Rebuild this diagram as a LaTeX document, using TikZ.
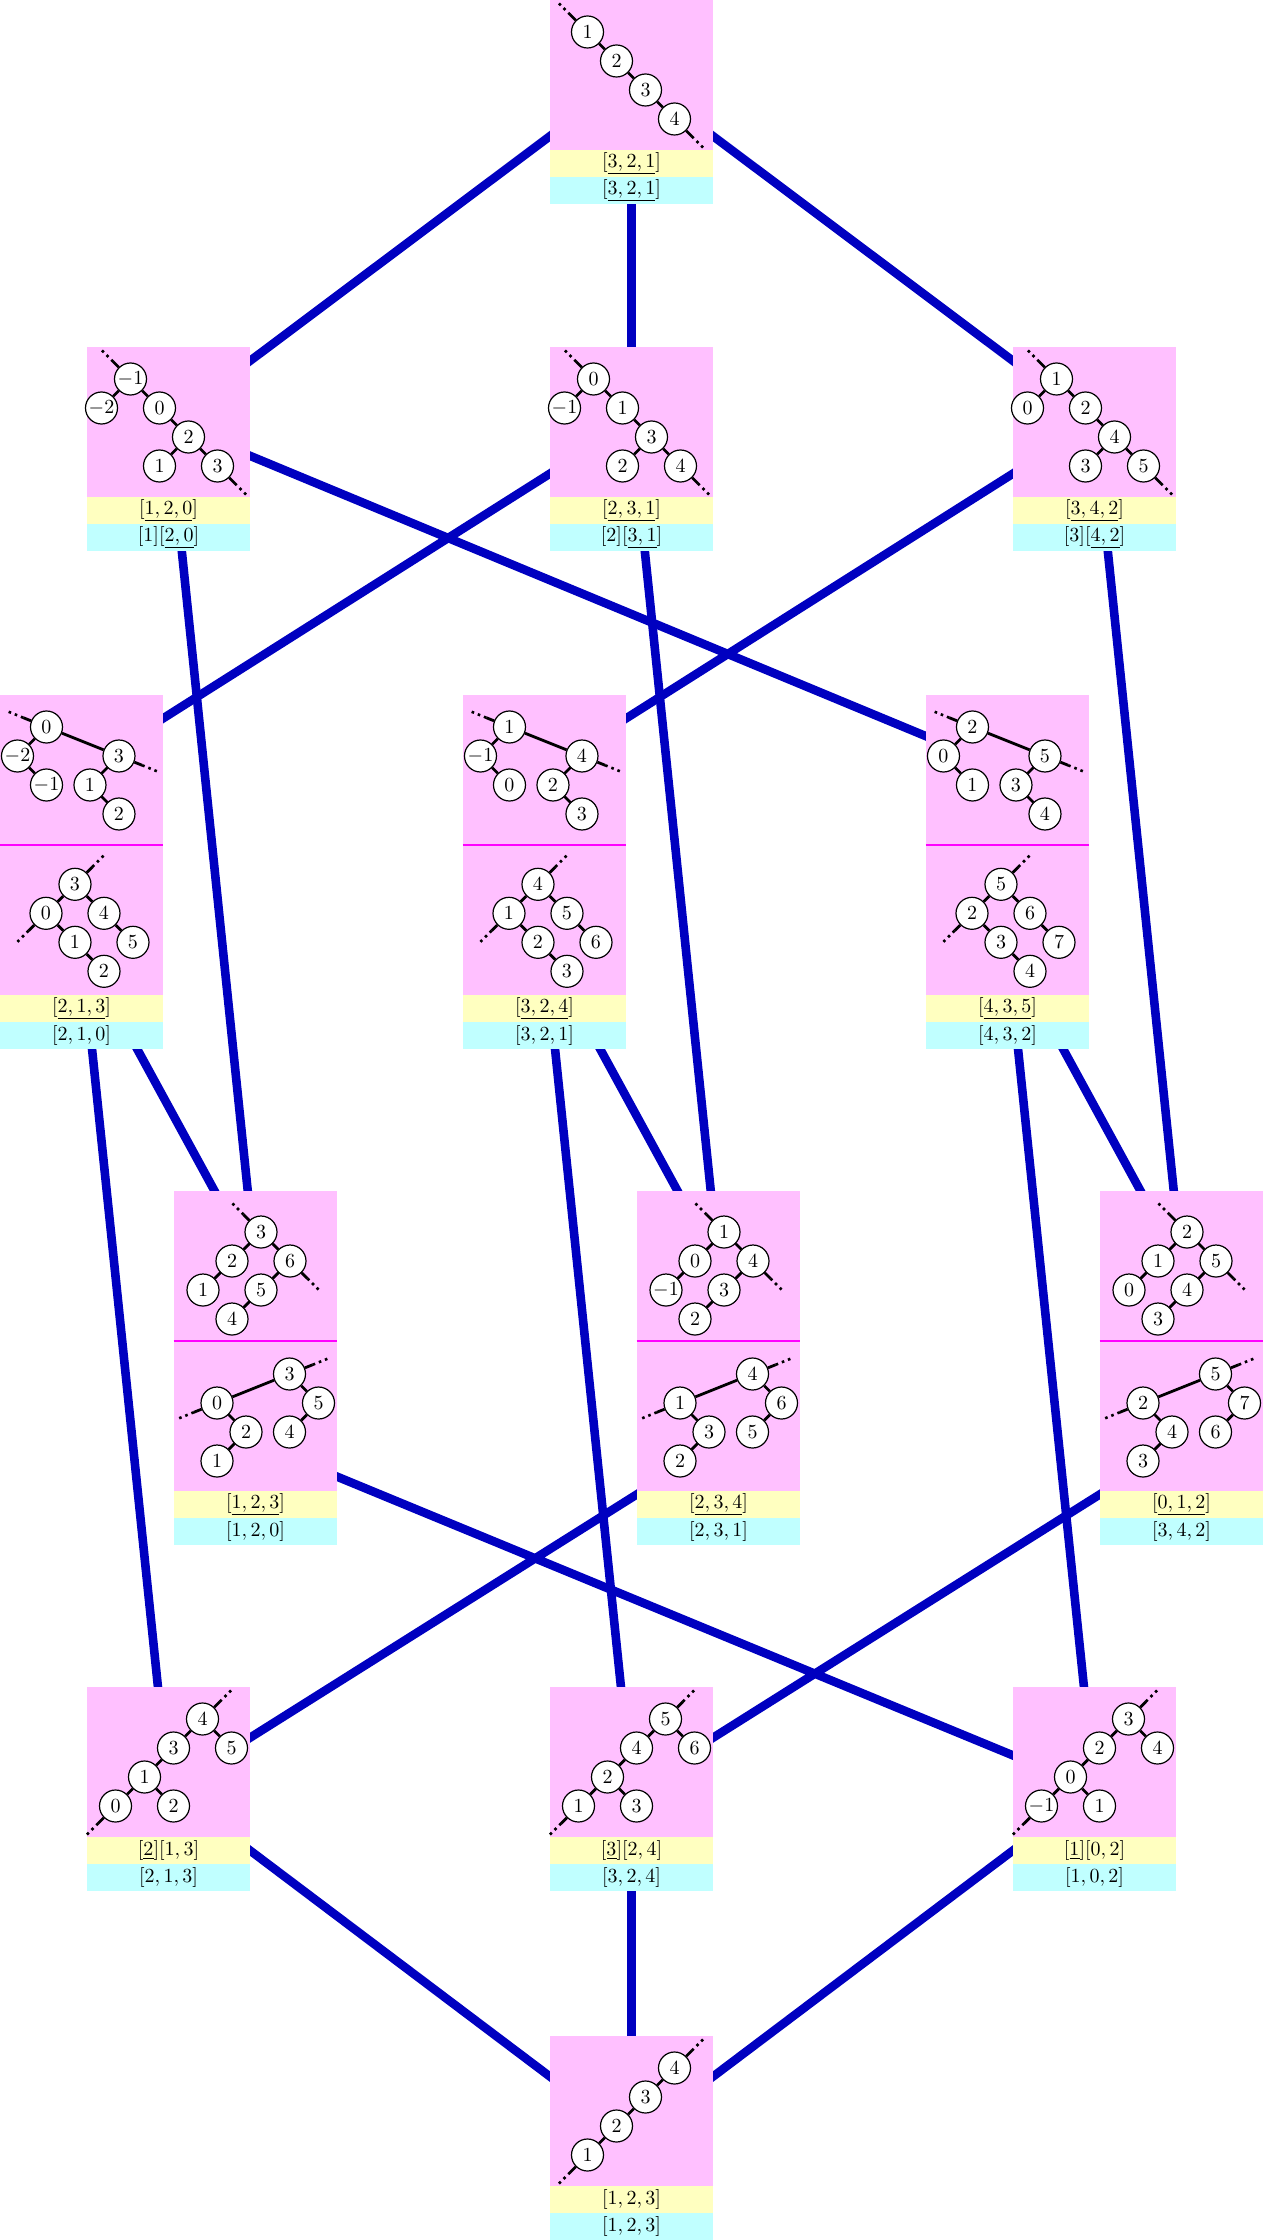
\documentclass[tikz,border=0pt]{standalone}
\definecolor{pinkc}{RGB}{255,192,255}
\definecolor{yelc}{RGB}{255,255,192}
\definecolor{cyanc}{RGB}{192,255,255}
\definecolor{bluec}{RGB}{0,0,192}
\definecolor{magc}{RGB}{255,0,255}
\tikzset{
  tn/.style={circle,draw=black,line width=0.6pt,fill=white,minimum size=16pt,inner sep=0pt},
  te/.style={line width=1.4pt,black},
  tdot/.style={line width=1.3pt,black,dotted},
  cell/.style={fill=pinkc,minimum width=81.5pt,minimum height=75pt,inner sep=0pt,draw=none},
  ylab/.style={fill=yelc,minimum width=81.5pt,minimum height=13.5pt,inner sep=0pt},
  clab/.style={fill=cyanc,minimum width=81.5pt,minimum height=13.5pt,inner sep=0pt},
  sepline/.style={draw=magc,line width=1pt},
  link/.style={draw=bluec,line width=4.3pt},
}
\newcommand\ext[3]{\draw[te] (#1) -- ([shift={(#2)}]#1.center);\draw[tdot] ([shift={(#2)}]#1.center) -- ([shift={(#3)}]#1.center);}
% chain going down-right
\newcommand\TreeDown[4]{%
  \node[tn] (a) at (1.293,1.103) {$#1$};
  \node[tn] (b) at (2.293,2.103) {$#2$};
  \node[tn] (c) at (3.293,3.103) {$#3$};
  \node[tn] (d) at (4.293,4.103) {$#4$};
  \draw[te] (a) -- (b) (b) -- (c) (c) -- (d);
  \ext{a}{-0.6,-0.6}{-1.06,-1.06}\ext{d}{0.6,0.6}{1.06,1.06}}
% chain going up-right
\newcommand\TreeUp[4]{%
  \node[tn] (a) at (1.293,4.103) {$#1$};
  \node[tn] (b) at (2.293,3.103) {$#2$};
  \node[tn] (c) at (3.293,2.103) {$#3$};
  \node[tn] (d) at (4.293,1.103) {$#4$};
  \draw[te] (a) -- (b) (b) -- (c) (c) -- (d);
  \ext{a}{-0.6,0.6}{-1.06,1.06}\ext{d}{0.6,-0.6}{1.06,-1.06}}
% level two
\newcommand\TreeTwo[6]{%
  \node[tn] (r) at (1.5,1.103) {$#1$};
  \node[tn] (l) at (0.5,2.103) {$#2$};
  \node[tn] (p) at (2.5,2.103) {$#3$};
  \node[tn] (q) at (3.5,3.103) {$#4$};
  \node[tn] (u) at (2.5,4.103) {$#5$};
  \node[tn] (v) at (4.5,4.103) {$#6$};
  \draw[te] (r) -- (l) (r) -- (p) (p) -- (q) (q) -- (u) (q) -- (v);
  \ext{r}{-0.6,-0.6}{-1.06,-1.06}\ext{v}{0.6,0.6}{1.06,1.06}}
% level five
\newcommand\TreeFive[6]{%
  \node[tn] (a) at (0.983,4.103) {$#1$};
  \node[tn] (b) at (1.983,3.103) {$#2$};
  \node[tn] (c) at (2.983,4.103) {$#3$};
  \node[tn] (d) at (2.983,2.103) {$#4$};
  \node[tn] (e) at (3.983,1.103) {$#5$};
  \node[tn] (f) at (4.983,2.103) {$#6$};
  \draw[te] (a) -- (b) (b) -- (d) (d) -- (e) (b) -- (c) (e) -- (f);
  \ext{a}{-0.6,0.6}{-1.06,1.06}\ext{e}{0.6,-0.6}{1.06,-1.06}}
% level three, upper tree
\newcommand\TreeThreeTop[6]{%
  \node[tn] (r) at (1.603,1.103) {$#1$};
  \node[tn] (l) at (0.603,2.103) {$#2$};
  \node[tn] (m) at (1.603,3.103) {$#3$};
  \node[tn] (s) at (4.103,2.103) {$#4$};
  \node[tn] (t) at (3.103,3.103) {$#5$};
  \node[tn] (w) at (4.103,4.103) {$#6$};
  \draw[te] (r) -- (l) (l) -- (m) (r) -- (s) (s) -- (t) (t) -- (w);
  \ext{r}{-0.8,-0.32}{-1.414,-0.569}\ext{s}{0.8,0.32}{1.414,0.569}}
% level three, lower tree
\newcommand\TreeThreeBot[6]{%
  \node[tn] (r) at (2.586,1.355) {$#1$};
  \node[tn] (l) at (1.586,2.355) {$#2$};
  \node[tn] (p) at (3.586,2.355) {$#3$};
  \node[tn] (m) at (2.586,3.355) {$#4$};
  \node[tn] (q) at (4.586,3.355) {$#5$};
  \node[tn] (w) at (3.586,4.355) {$#6$};
  \draw[te] (r) -- (l) (r) -- (p) (l) -- (m) (m) -- (w) (p) -- (q);
  \ext{r}{0.6,-0.6}{1.06,-1.06}\ext{l}{-0.6,0.6}{-1.06,1.06}}
% level four, upper tree
\newcommand\TreeFourTop[6]{%
  \node[tn] (r) at (3,1.414) {$#1$};
  \node[tn] (a) at (2,2.414) {$#2$};
  \node[tn] (b) at (4,2.414) {$#3$};
  \node[tn] (c) at (1,3.414) {$#4$};
  \node[tn] (d) at (3,3.414) {$#5$};
  \node[tn] (e) at (2,4.414) {$#6$};
  \draw[te] (r) -- (a) (r) -- (b) (a) -- (c) (b) -- (d) (d) -- (e);
  \ext{r}{-0.6,-0.6}{-1.06,-1.06}\ext{b}{0.6,0.6}{1.06,1.06}}
% level four, lower tree
\newcommand\TreeFourBot[6]{%
  \node[tn] (r) at (1.483,2.138) {$#1$};
  \node[tn] (s) at (3.983,1.138) {$#2$};
  \node[tn] (p) at (4.983,2.138) {$#3$};
  \node[tn] (m) at (2.483,3.138) {$#4$};
  \node[tn] (q) at (3.983,3.138) {$#5$};
  \node[tn] (w) at (1.483,4.138) {$#6$};
  \draw[te] (r) -- (s) (s) -- (p) (p) -- (q) (r) -- (m) (m) -- (w);
  \ext{s}{0.8,-0.32}{1.414,-0.569}\ext{r}{-0.8,0.32}{-1.414,0.569}}
\begin{document}
\begin{tikzpicture}[x=0.5pt,y=-0.5pt]
\useasboundingbox (0,0) rectangle (1263,2240);
% ---------- anchors of the lattice edges
\coordinate (vT) at (631.5,75);
\coordinate (v2a) at (168.5,422);
\coordinate (v2b) at (631.5,422);
\coordinate (v2c) at (1094.5,422);
\coordinate (v3a-u) at (81.5,770);
\coordinate (v3b-u) at (544.5,770);
\coordinate (v3c-u) at (1007.5,770);
\coordinate (v3a-l) at (81.5,947);
\coordinate (v3b-l) at (544.5,947);
\coordinate (v3c-l) at (1007.5,947);
\coordinate (v4a-u) at (255.5,1266);
\coordinate (v4b-u) at (718.5,1266);
\coordinate (v4c-u) at (1181.5,1266);
\coordinate (v4a-l) at (255.5,1443);
\coordinate (v4b-l) at (718.5,1443);
\coordinate (v4c-l) at (1181.5,1443);
\coordinate (v5a) at (168.5,1789);
\coordinate (v5b) at (631.5,1789);
\coordinate (v5c) at (1094.5,1789);
\coordinate (vB) at (631.5,2138);
% ---------- lattice edges (behind)
\draw[link] (vT) -- (v2a) (vT) -- (v2b) (vT) -- (v2c);
\draw[link] (v2a) -- (v3c-u) (v2a) -- (v4a-u);
\draw[link] (v2b) -- (v3a-u) (v2b) -- (v4b-u);
\draw[link] (v2c) -- (v3b-u) (v2c) -- (v4c-u);
\draw[link] (v3a-l) -- (v5a) (v3a-l) -- (v4a-u);
\draw[link] (v3b-l) -- (v5b) (v3b-l) -- (v4b-u);
\draw[link] (v3c-l) -- (v5c) (v3c-l) -- (v4c-u);
\draw[link] (v4a-l) -- (v5c) (v4b-l) -- (v5a) (v4c-l) -- (v5b);
\draw[link] (v5a) -- (vB) (v5b) -- (vB) (v5c) -- (vB);
% ---------- boxes: pink cells
\node[cell] (cT) at (631.5,75) {};
\node[cell] (c2a) at (168.5,422) {};
\node[cell] (c2b) at (631.5,422) {};
\node[cell] (c2c) at (1094.5,422) {};
\node[cell] (c3a-u) at (81.5,770) {};
\node[cell] (c3a-l) at (81.5,920) {};
\node[cell] (c3b-u) at (544.5,770) {};
\node[cell] (c3b-l) at (544.5,920) {};
\node[cell] (c3c-u) at (1007.5,770) {};
\node[cell] (c3c-l) at (1007.5,920) {};
\node[cell] (c4a-u) at (255.5,1266) {};
\node[cell] (c4a-l) at (255.5,1416) {};
\node[cell] (c4b-u) at (718.5,1266) {};
\node[cell] (c4b-l) at (718.5,1416) {};
\node[cell] (c4c-u) at (1181.5,1266) {};
\node[cell] (c4c-l) at (1181.5,1416) {};
\node[cell] (c5a) at (168.5,1762) {};
\node[cell] (c5b) at (631.5,1762) {};
\node[cell] (c5c) at (1094.5,1762) {};
\node[cell] (cB) at (631.5,2111) {};
% separators
\foreach \n in {3a,3b,3c,4a,4b,4c}
  \draw[sepline] (c\n-u.south west) -- (c\n-u.south east);
% ---------- labels
\node[ylab] (yT) at (631.5,163.5) {$[\underline{3,2,1}]$};
\node[clab] (kT) at (631.5,190.5) {$[\underline{3,2,1}]$};
\node[ylab] (y2a) at (168.5,510.5) {$[\underline{1,2,0}]$};
\node[clab] (k2a) at (168.5,537.5) {$[1][\underline{2,0}]$};
\node[ylab] (y2b) at (631.5,510.5) {$[\underline{2,3,1}]$};
\node[clab] (k2b) at (631.5,537.5) {$[2][\underline{3,1}]$};
\node[ylab] (y2c) at (1094.5,510.5) {$[\underline{3,4,2}]$};
\node[clab] (k2c) at (1094.5,537.5) {$[3][\underline{4,2}]$};
\node[ylab] (y3a) at (81.5,1008.5) {$[\underline{2,1,3}]$};
\node[clab] (k3a) at (81.5,1035.5) {$[2,1,0]$};
\node[ylab] (y3b) at (544.5,1008.5) {$[\underline{3,2,4}]$};
\node[clab] (k3b) at (544.5,1035.5) {$[3,2,1]$};
\node[ylab] (y3c) at (1007.5,1008.5) {$[\underline{4,3,5}]$};
\node[clab] (k3c) at (1007.5,1035.5) {$[4,3,2]$};
\node[ylab] (y4a) at (255.5,1504.5) {$[\underline{1,2,3}]$};
\node[clab] (k4a) at (255.5,1531.5) {$[1,2,0]$};
\node[ylab] (y4b) at (718.5,1504.5) {$[\underline{2,3,4}]$};
\node[clab] (k4b) at (718.5,1531.5) {$[2,3,1]$};
\node[ylab] (y4c) at (1181.5,1504.5) {$[\underline{0,1,2}]$};
\node[clab] (k4c) at (1181.5,1531.5) {$[3,4,2]$};
\node[ylab] (y5a) at (168.5,1850.5) {$[\underline{2}][1,3]$};
\node[clab] (k5a) at (168.5,1877.5) {$[2,1,3]$};
\node[ylab] (y5b) at (631.5,1850.5) {$[\underline{3}][2,4]$};
\node[clab] (k5b) at (631.5,1877.5) {$[3,2,4]$};
\node[ylab] (y5c) at (1094.5,1850.5) {$[\underline{1}][0,2]$};
\node[clab] (k5c) at (1094.5,1877.5) {$[1,0,2]$};
\node[ylab] (yB) at (631.5,2199.5) {$[1,2,3]$};
\node[clab] (kB) at (631.5,2226.5) {$[1,2,3]$};
% ---------- trees
\begin{scope}[shift={(550,0)},x=14.5pt,y=-14.5pt,name prefix=tT-]
  \TreeDown{1}{2}{3}{4}
\end{scope}
\begin{scope}[shift={(87,347)},x=14.5pt,y=-14.5pt,name prefix=t2a-]
  \TreeTwo{-1}{-2}{0}{2}{1}{3}
\end{scope}
\begin{scope}[shift={(550,347)},x=14.5pt,y=-14.5pt,name prefix=t2b-]
  \TreeTwo{0}{-1}{1}{3}{2}{4}
\end{scope}
\begin{scope}[shift={(1013,347)},x=14.5pt,y=-14.5pt,name prefix=t2c-]
  \TreeTwo{1}{0}{2}{4}{3}{5}
\end{scope}
\begin{scope}[shift={(0,695)},x=14.5pt,y=-14.5pt,name prefix=t3au-]
  \TreeThreeTop{0}{-2}{-1}{3}{1}{2}
\end{scope}
\begin{scope}[shift={(0,845)},x=14.5pt,y=-14.5pt,name prefix=t3al-]
  \TreeThreeBot{3}{0}{4}{1}{5}{2}
\end{scope}
\begin{scope}[shift={(463,695)},x=14.5pt,y=-14.5pt,name prefix=t3bu-]
  \TreeThreeTop{1}{-1}{0}{4}{2}{3}
\end{scope}
\begin{scope}[shift={(463,845)},x=14.5pt,y=-14.5pt,name prefix=t3bl-]
  \TreeThreeBot{4}{1}{5}{2}{6}{3}
\end{scope}
\begin{scope}[shift={(926,695)},x=14.5pt,y=-14.5pt,name prefix=t3cu-]
  \TreeThreeTop{2}{0}{1}{5}{3}{4}
\end{scope}
\begin{scope}[shift={(926,845)},x=14.5pt,y=-14.5pt,name prefix=t3cl-]
  \TreeThreeBot{5}{2}{6}{3}{7}{4}
\end{scope}
\begin{scope}[shift={(174,1191)},x=14.5pt,y=-14.5pt,name prefix=t4au-]
  \TreeFourTop{3}{2}{6}{1}{5}{4}
\end{scope}
\begin{scope}[shift={(174,1341)},x=14.5pt,y=-14.5pt,name prefix=t4al-]
  \TreeFourBot{0}{3}{5}{2}{4}{1}
\end{scope}
\begin{scope}[shift={(637,1191)},x=14.5pt,y=-14.5pt,name prefix=t4bu-]
  \TreeFourTop{1}{0}{4}{-1}{3}{2}
\end{scope}
\begin{scope}[shift={(637,1341)},x=14.5pt,y=-14.5pt,name prefix=t4bl-]
  \TreeFourBot{1}{4}{6}{3}{5}{2}
\end{scope}
\begin{scope}[shift={(1100,1191)},x=14.5pt,y=-14.5pt,name prefix=t4cu-]
  \TreeFourTop{2}{1}{5}{0}{4}{3}
\end{scope}
\begin{scope}[shift={(1100,1341)},x=14.5pt,y=-14.5pt,name prefix=t4cl-]
  \TreeFourBot{2}{5}{7}{4}{6}{3}
\end{scope}
\begin{scope}[shift={(87,1687)},x=14.5pt,y=-14.5pt,name prefix=t5a-]
  \TreeFive{0}{1}{2}{3}{4}{5}
\end{scope}
\begin{scope}[shift={(550,1687)},x=14.5pt,y=-14.5pt,name prefix=t5b-]
  \TreeFive{1}{2}{3}{4}{5}{6}
\end{scope}
\begin{scope}[shift={(1013,1687)},x=14.5pt,y=-14.5pt,name prefix=t5c-]
  \TreeFive{-1}{0}{1}{2}{3}{4}
\end{scope}
\begin{scope}[shift={(550,2036)},x=14.5pt,y=-14.5pt,name prefix=tB-]
  \TreeUp{1}{2}{3}{4}
\end{scope}
\end{tikzpicture}
\end{document}
